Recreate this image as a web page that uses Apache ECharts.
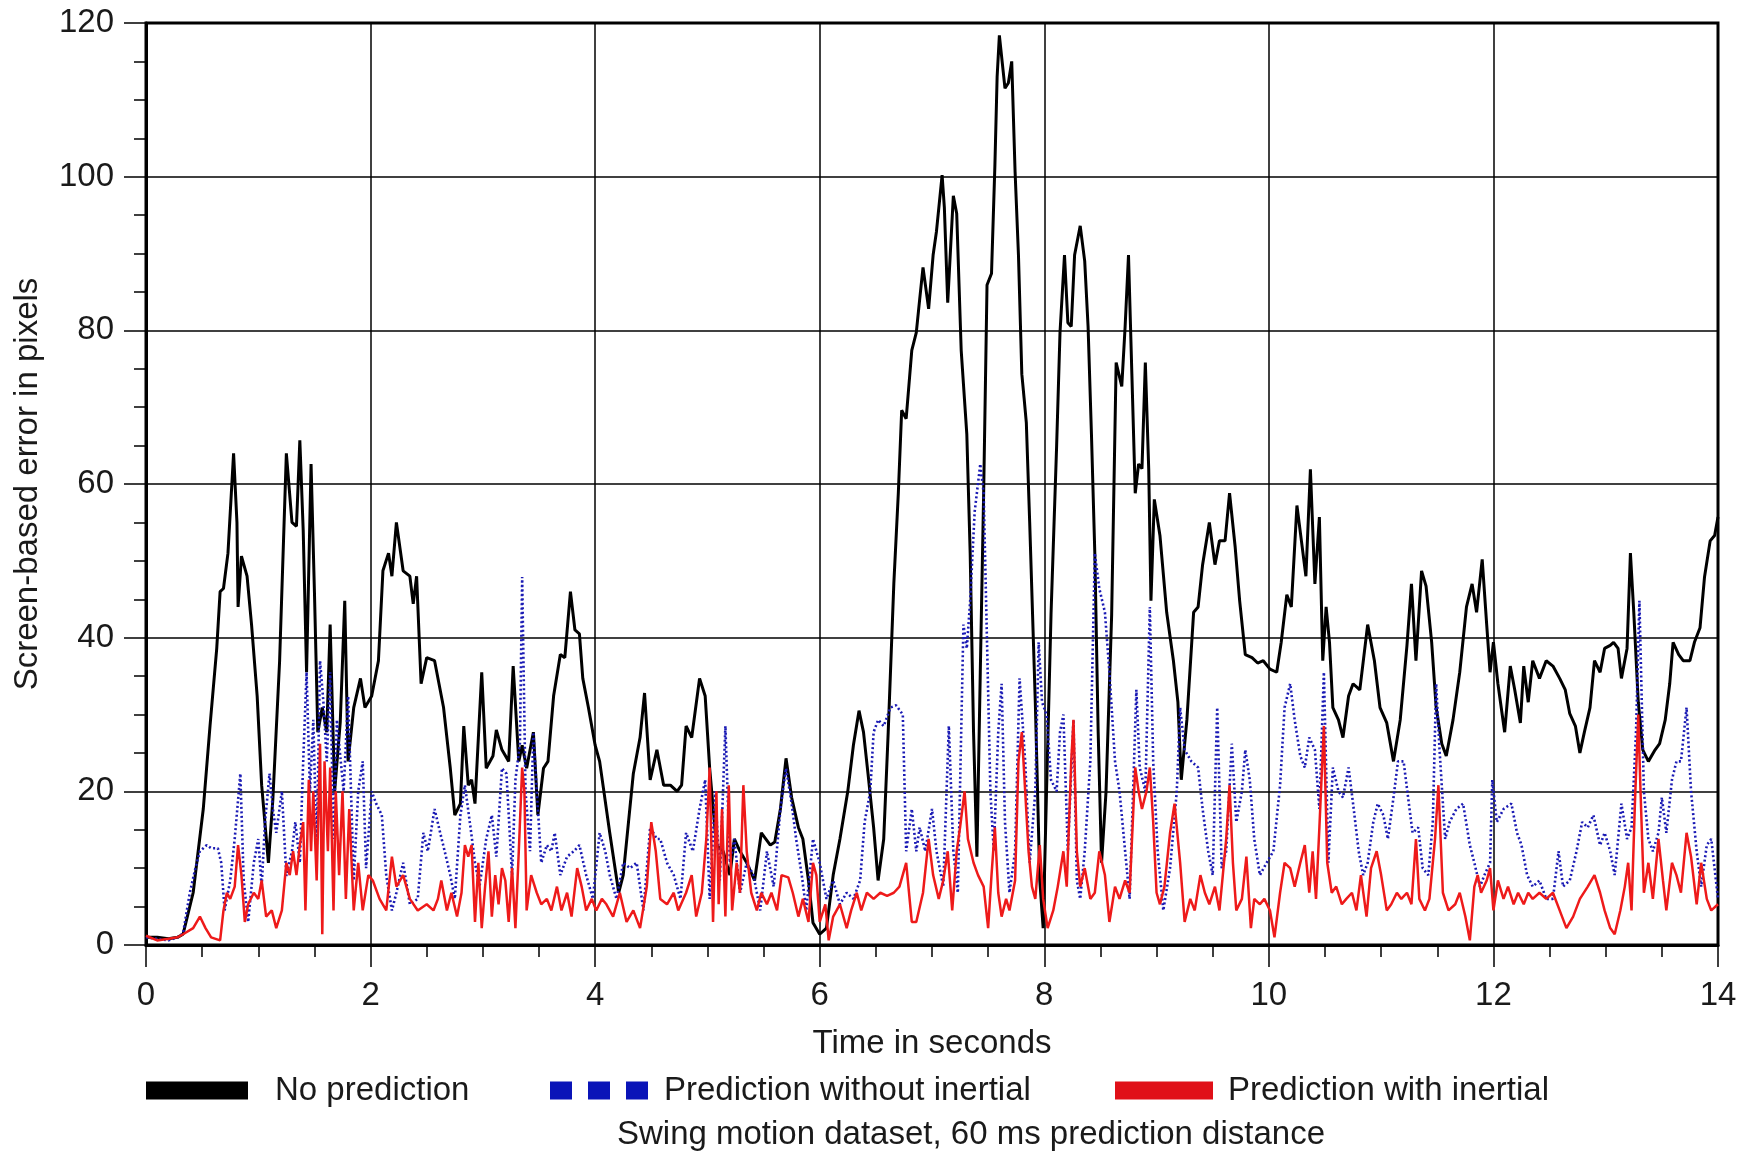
<!DOCTYPE html>
<html>
<head>
<meta charset="utf-8">
<title>Swing motion dataset</title>
<script src="https://cdn.jsdelivr.net/npm/echarts@6/dist/echarts.min.js"></script>
<style>
    html, body { margin: 0; padding: 0; background: #fff; }
    #main { width: 1746px; height: 1152px; }
</style>
</head>
<body>
<div id="main"></div>
<script>
// time ticks and error ticks
var timeTicks = [0, 2, 4, 6, 8, 10, 12, 14];
var errorTicks = [0, 20, 40, 60, 80, 100, 120];

// No prediction (black)
var noPredTime = [0, 0.1, 0.2, 0.28, 0.33, 0.42, 0.51, 0.57, 0.63, 0.66, 0.69, 0.73, 0.78, 0.81, 0.82, 0.85, 0.9, 0.94, 0.99, 1.03, 1.09, 1.13, 1.19, 1.25, 1.3, 1.34, 1.37, 1.4, 1.43, 1.47, 1.5, 1.53, 1.57, 1.61, 1.64, 1.68, 1.73, 1.77, 1.8, 1.85, 1.91, 1.95, 2.01, 2.07, 2.11, 2.16, 2.19, 2.23, 2.29, 2.35, 2.38, 2.41, 2.45, 2.5, 2.57, 2.65, 2.71, 2.75, 2.8, 2.83, 2.87, 2.9, 2.93, 2.99, 3.03, 3.09, 3.12, 3.17, 3.23, 3.27, 3.32, 3.35, 3.39, 3.45, 3.49, 3.54, 3.58, 3.63, 3.69, 3.73, 3.78, 3.82, 3.86, 3.89, 3.94, 4.0, 4.04, 4.13, 4.21, 4.25, 4.34, 4.4, 4.44, 4.49, 4.55, 4.61, 4.67, 4.73, 4.77, 4.81, 4.86, 4.93, 4.98, 5.02, 5.08, 5.14, 5.2, 5.24, 5.29, 5.35, 5.42, 5.48, 5.56, 5.6, 5.65, 5.7, 5.75, 5.81, 5.85, 5.9, 5.94, 6.0, 6.06, 6.12, 6.18, 6.25, 6.3, 6.35, 6.39, 6.43, 6.48, 6.52, 6.57, 6.61, 6.66, 6.7, 6.73, 6.77, 6.82, 6.86, 6.89, 6.92, 6.97, 7.01, 7.04, 7.09, 7.11, 7.14, 7.19, 7.22, 7.26, 7.31, 7.34, 7.37, 7.4, 7.43, 7.46, 7.49, 7.53, 7.56, 7.58, 7.6, 7.65, 7.68, 7.71, 7.74, 7.77, 7.8, 7.82, 7.84, 7.87, 7.92, 7.96, 7.99, 8.02, 8.06, 8.11, 8.14, 8.18, 8.21, 8.24, 8.27, 8.32, 8.36, 8.39, 8.42, 8.45, 8.48, 8.51, 8.55, 8.6, 8.64, 8.69, 8.72, 8.75, 8.78, 8.81, 8.84, 8.87, 8.9, 8.93, 8.95, 8.98, 9.03, 9.09, 9.15, 9.19, 9.22, 9.27, 9.33, 9.37, 9.41, 9.47, 9.52, 9.56, 9.61, 9.65, 9.7, 9.74, 9.79, 9.85, 9.9, 9.95, 10.01, 10.07, 10.11, 10.16, 10.2, 10.25, 10.29, 10.33, 10.37, 10.41, 10.45, 10.48, 10.51, 10.54, 10.57, 10.62, 10.66, 10.71, 10.75, 10.81, 10.88, 10.94, 10.99, 11.05, 11.11, 11.17, 11.23, 11.27, 11.31, 11.36, 11.4, 11.45, 11.49, 11.54, 11.58, 11.64, 11.7, 11.76, 11.81, 11.85, 11.9, 11.94, 11.97, 12.0, 12.04, 12.1, 12.15, 12.19, 12.24, 12.27, 12.31, 12.35, 12.41, 12.47, 12.53, 12.59, 12.64, 12.68, 12.73, 12.77, 12.81, 12.86, 12.9, 12.95, 12.99, 13.04, 13.07, 13.11, 13.14, 13.19, 13.22, 13.25, 13.29, 13.33, 13.38, 13.44, 13.48, 13.53, 13.57, 13.6, 13.65, 13.69, 13.75, 13.79, 13.84, 13.88, 13.93, 13.97, 14.0];
var noPredError = [1.0, 1.0, 0.8, 1.0, 1.4, 6.8, 17.7, 28.5, 38.6, 46, 46.4, 51, 64, 55, 44, 50.6, 48, 41.7, 32.4, 20.8, 10.7, 19, 37, 64, 55, 54.5, 65.7, 54, 35.5, 62.6, 46, 27.7, 30.9, 27.7, 41.7, 20, 29, 44.8, 23.9, 30.9, 34.7, 30.9, 32.4, 37, 48.7, 51, 48, 55, 48.7, 48, 44.4, 48, 34, 37.4, 37, 30.9, 23, 16.9, 18.4, 28.5, 20.8, 21.5, 18.4, 35.5, 23, 24.6, 28, 25.4, 23.9, 36.3, 23.9, 26, 23, 27.7, 16.9, 23, 23.9, 32.4, 37.8, 37.4, 46, 41, 40.5, 34.7, 30.9, 26, 23.9, 14.6, 6.8, 9.1, 22.3, 27, 32.8, 21.5, 25.4, 20.8, 20.8, 20, 20.8, 28.5, 27, 34.7, 32.4, 23, 13, 12.2, 9.1, 13.8, 12.2, 10.7, 8.4, 14.6, 13, 13.4, 17.7, 24.3, 19.2, 15.3, 13.8, 8.4, 2.9, 1.4, 2.2, 9.1, 13.8, 20, 26, 30.5, 27.7, 22.3, 15.3, 8.4, 13.8, 27.7, 47, 58.8, 69.6, 68.5, 77.4, 79.7, 84, 88.2, 82.8, 89.8, 92.9, 100.2, 96, 83.6, 97.5, 95.2, 77.4, 66.5, 51, 27.7, 11.5, 35.5, 58.8, 85.9, 87.4, 101.4, 113, 118.4, 111.5, 112.2, 115, 100.6, 89.8, 74.3, 71.2, 68, 55, 31.6, 8.4, 2.2, 20, 43, 65, 79.7, 89.8, 81, 80.5, 89.8, 93.6, 89, 80.5, 66.5, 51, 27.7, 10.7, 20, 43, 75.8, 72.7, 80.5, 89.8, 74.3, 58.8, 62.6, 62, 75.8, 62, 44.8, 58, 53.3, 43.3, 37, 31.6, 21.5, 29.3, 43.3, 44, 49.5, 55, 49.5, 52.6, 52.6, 58.8, 51.8, 44.8, 37.8, 37.4, 36.7, 37, 35.9, 35.5, 39.4, 45.6, 44, 57.2, 52.6, 48, 61.9, 47, 55.7, 37, 44, 39.4, 30.9, 29.3, 27, 32.4, 34, 33.2, 41.7, 37, 30.9, 28.9, 23.9, 29.3, 39, 47, 37, 48.7, 46.7, 39.4, 30.9, 26.2, 24.6, 29.3, 35.5, 44, 47, 43.3, 50.2, 41.7, 35.5, 39.4, 34, 27.7, 36.3, 33.2, 28.9, 36.3, 31.6, 37, 34.7, 37, 36.3, 34.7, 33.2, 30.1, 28.5, 25, 27.7, 30.9, 37, 35.5, 38.6, 39, 39.4, 38.6, 34.7, 38.6, 51, 43.3, 31.6, 25.4, 23.9, 25.4, 26.2, 29.3, 34, 39.4, 37.8, 37, 37, 39.4, 41.3, 47.9, 52.6, 53.3, 55.7];

// Prediction without inertial (blue dotted)
var noInertialTime = [0, 0.1, 0.2, 0.28, 0.33, 0.39, 0.44, 0.48, 0.54, 0.58, 0.64, 0.67, 0.7, 0.75, 0.79, 0.84, 0.87, 0.91, 0.96, 1.0, 1.03, 1.06, 1.1, 1.13, 1.16, 1.21, 1.25, 1.3, 1.33, 1.37, 1.4, 1.43, 1.46, 1.49, 1.52, 1.55, 1.58, 1.61, 1.64, 1.67, 1.7, 1.73, 1.76, 1.8, 1.85, 1.89, 1.93, 1.96, 2.01, 2.05, 2.1, 2.14, 2.19, 2.23, 2.29, 2.35, 2.42, 2.47, 2.51, 2.57, 2.62, 2.66, 2.71, 2.75, 2.8, 2.84, 2.89, 2.93, 2.97, 3.03, 3.08, 3.12, 3.17, 3.21, 3.26, 3.29, 3.33, 3.35, 3.38, 3.42, 3.45, 3.48, 3.52, 3.57, 3.61, 3.64, 3.69, 3.75, 3.81, 3.86, 3.92, 3.98, 4.04, 4.09, 4.13, 4.19, 4.25, 4.31, 4.37, 4.43, 4.49, 4.55, 4.58, 4.64, 4.7, 4.76, 4.81, 4.87, 4.93, 4.98, 5.02, 5.07, 5.11, 5.16, 5.2, 5.24, 5.29, 5.35, 5.41, 5.47, 5.53, 5.59, 5.65, 5.7, 5.75, 5.79, 5.84, 5.88, 5.94, 6.0, 6.06, 6.12, 6.18, 6.24, 6.3, 6.36, 6.4, 6.45, 6.48, 6.52, 6.57, 6.63, 6.68, 6.74, 6.77, 6.82, 6.86, 6.89, 6.94, 7.0, 7.04, 7.1, 7.15, 7.19, 7.23, 7.28, 7.31, 7.34, 7.38, 7.43, 7.46, 7.49, 7.52, 7.55, 7.59, 7.62, 7.65, 7.69, 7.74, 7.78, 7.83, 7.87, 7.92, 7.95, 7.98, 8.02, 8.06, 8.11, 8.14, 8.17, 8.21, 8.26, 8.29, 8.32, 8.36, 8.41, 8.45, 8.49, 8.54, 8.58, 8.63, 8.67, 8.72, 8.76, 8.82, 8.85, 8.9, 8.94, 8.97, 9.01, 9.06, 9.12, 9.18, 9.21, 9.25, 9.31, 9.37, 9.41, 9.46, 9.5, 9.54, 9.58, 9.62, 9.67, 9.71, 9.76, 9.79, 9.83, 9.87, 9.92, 9.98, 10.04, 10.1, 10.14, 10.19, 10.23, 10.28, 10.32, 10.36, 10.41, 10.45, 10.49, 10.53, 10.57, 10.62, 10.66, 10.71, 10.75, 10.8, 10.84, 10.88, 10.93, 10.97, 11.02, 11.06, 11.11, 11.15, 11.2, 11.24, 11.28, 11.33, 11.37, 11.42, 11.46, 11.49, 11.52, 11.57, 11.61, 11.67, 11.73, 11.79, 11.83, 11.88, 11.92, 11.97, 11.99, 12.03, 12.09, 12.16, 12.21, 12.25, 12.3, 12.35, 12.41, 12.47, 12.53, 12.58, 12.62, 12.68, 12.74, 12.79, 12.84, 12.89, 12.95, 12.99, 13.04, 13.08, 13.14, 13.19, 13.23, 13.27, 13.3, 13.34, 13.38, 13.42, 13.47, 13.5, 13.54, 13.59, 13.63, 13.67, 13.72, 13.76, 13.81, 13.85, 13.9, 13.94, 14.0];
var noInertialError = [1.0, 0.8, 0.6, 1.0, 1.5, 6.8, 10, 12.2, 13, 12.6, 12.6, 10.7, 4.5, 8.4, 13.8, 22.3, 8.4, 3, 10.7, 13.8, 7.6, 16, 22.3, 17.7, 14.6, 20, 9, 12.2, 16, 10.7, 23.9, 35.5, 20, 29.3, 12.2, 37, 31.6, 23.9, 35.5, 13.8, 29.3, 24.6, 20, 32.4, 8.4, 20, 23.9, 10, 20, 18.4, 16.9, 9, 4.5, 6.8, 10.7, 5.3, 6, 14.6, 12.2, 17.7, 14.6, 12.2, 9.1, 6, 16.9, 20.8, 15.3, 10.7, 7.6, 13.8, 16.9, 11.5, 23, 22.3, 9.1, 21.5, 26.2, 47.9, 20, 12.2, 27.7, 20, 10.7, 13, 12.2, 14.6, 9.1, 11.5, 12.2, 13, 9.1, 6, 14.6, 12.2, 9.1, 6, 10.7, 10, 10.7, 4.5, 15.3, 13.8, 13.8, 10.7, 9.1, 6, 14.6, 12.2, 17.7, 21.5, 6, 20, 8.4, 28.5, 10.7, 13.8, 6.8, 10.7, 9.1, 4.5, 12.2, 7.6, 17.7, 23, 18.4, 13.8, 9.1, 4.5, 13.8, 10.7, 6, 8.4, 5.3, 6.8, 6, 8.4, 16, 20, 27.7, 29.3, 28.5, 30.9, 31.2, 30, 12.2, 17.7, 12.2, 15.3, 12.2, 17.7, 12.2, 7.6, 28.5, 12.2, 6.8, 41.7, 38.6, 44.8, 56.4, 62.6, 58.8, 39.4, 20, 12.2, 27.7, 34, 16, 6.8, 12.2, 34.7, 23.9, 10.7, 20, 39.4, 31.6, 30, 21.5, 20, 27.7, 30, 12.2, 29.3, 8.4, 6, 12.2, 23.9, 51, 46.4, 43.3, 35.5, 23.9, 20, 12.2, 6, 33.2, 23.1, 20, 44, 23.9, 12.2, 4.5, 10, 20, 30.9, 25.4, 23.9, 23.1, 17.7, 12.2, 9.1, 30.9, 10, 12.2, 26.2, 16, 20, 25.4, 21.5, 13.8, 9.1, 10.7, 12.2, 20.8, 30.9, 34, 29.3, 24.6, 23.1, 27, 25.4, 17.7, 35.5, 10.7, 23.1, 20, 19.2, 23.1, 18.4, 12.2, 9.1, 10.7, 16, 18.4, 16.9, 13.8, 19.2, 23.9, 23.9, 19.2, 14.6, 15.3, 10, 9.1, 16, 34, 25.4, 13.8, 16, 17.7, 18.4, 13, 10.7, 7.6, 9.1, 10.7, 21.5, 16, 17.7, 18.4, 14.6, 13, 9.1, 7.6, 8.4, 6, 6, 12.2, 7.6, 8.4, 12.2, 16, 15.3, 16.9, 13, 14.6, 12.2, 9.1, 18.4, 13.8, 15.3, 27.7, 44.8, 20, 13.8, 12.2, 14.6, 19.2, 14.6, 21.5, 23.9, 23.9, 30.9, 20, 12.2, 7.6, 13, 13.8, 6];

// Prediction with inertial (red)
var inertialTime = [0, 0.1, 0.2, 0.28, 0.33, 0.42, 0.48, 0.53, 0.58, 0.66, 0.69, 0.72, 0.75, 0.79, 0.82, 0.85, 0.88, 0.91, 0.96, 1.0, 1.03, 1.07, 1.12, 1.16, 1.21, 1.25, 1.28, 1.31, 1.34, 1.37, 1.4, 1.42, 1.45, 1.47, 1.49, 1.52, 1.55, 1.57, 1.59, 1.62, 1.64, 1.67, 1.69, 1.72, 1.75, 1.78, 1.81, 1.85, 1.89, 1.93, 1.98, 2.02, 2.08, 2.14, 2.19, 2.23, 2.29, 2.35, 2.42, 2.5, 2.56, 2.6, 2.63, 2.68, 2.72, 2.77, 2.81, 2.84, 2.87, 2.9, 2.93, 2.96, 2.99, 3.02, 3.05, 3.08, 3.11, 3.14, 3.17, 3.2, 3.23, 3.26, 3.29, 3.32, 3.35, 3.37, 3.39, 3.43, 3.48, 3.52, 3.57, 3.61, 3.66, 3.7, 3.75, 3.79, 3.84, 3.88, 3.92, 3.97, 4.01, 4.06, 4.1, 4.16, 4.22, 4.28, 4.34, 4.4, 4.46, 4.5, 4.54, 4.58, 4.64, 4.7, 4.74, 4.81, 4.86, 4.9, 4.95, 4.99, 5.02, 5.05, 5.08, 5.1, 5.13, 5.16, 5.19, 5.22, 5.26, 5.29, 5.32, 5.35, 5.39, 5.44, 5.48, 5.53, 5.57, 5.62, 5.66, 5.72, 5.76, 5.81, 5.85, 5.9, 5.94, 5.97, 6.0, 6.05, 6.08, 6.12, 6.18, 6.24, 6.28, 6.33, 6.37, 6.42, 6.48, 6.54, 6.6, 6.66, 6.71, 6.77, 6.82, 6.86, 6.92, 6.97, 7.01, 7.06, 7.1, 7.14, 7.18, 7.22, 7.25, 7.29, 7.32, 7.37, 7.41, 7.46, 7.5, 7.53, 7.56, 7.59, 7.62, 7.66, 7.69, 7.74, 7.77, 7.8, 7.83, 7.86, 7.89, 7.92, 7.96, 7.99, 8.03, 8.08, 8.12, 8.17, 8.2, 8.24, 8.26, 8.29, 8.32, 8.36, 8.41, 8.45, 8.49, 8.54, 8.58, 8.63, 8.67, 8.72, 8.76, 8.81, 8.84, 8.87, 8.91, 8.94, 8.97, 9.0, 9.03, 9.07, 9.12, 9.16, 9.21, 9.25, 9.3, 9.34, 9.39, 9.43, 9.47, 9.52, 9.56, 9.59, 9.62, 9.65, 9.68, 9.71, 9.76, 9.8, 9.84, 9.87, 9.92, 9.96, 10.01, 10.05, 10.1, 10.14, 10.19, 10.23, 10.28, 10.32, 10.36, 10.39, 10.42, 10.45, 10.49, 10.52, 10.56, 10.6, 10.65, 10.69, 10.74, 10.78, 10.82, 10.87, 10.91, 10.96, 11.0, 11.05, 11.09, 11.14, 11.18, 11.23, 11.27, 11.31, 11.34, 11.39, 11.43, 11.48, 11.51, 11.55, 11.6, 11.66, 11.7, 11.75, 11.79, 11.83, 11.86, 11.89, 11.94, 11.97, 12.0, 12.04, 12.09, 12.13, 12.18, 12.22, 12.27, 12.31, 12.35, 12.41, 12.47, 12.53, 12.59, 12.65, 12.71, 12.77, 12.84, 12.9, 12.95, 12.99, 13.04, 13.08, 13.13, 13.17, 13.2, 13.23, 13.26, 13.29, 13.31, 13.34, 13.38, 13.42, 13.47, 13.51, 13.54, 13.59, 13.63, 13.67, 13.72, 13.76, 13.81, 13.85, 13.9, 13.94, 14.0];
var inertialError = [1.2, 0.6, 0.8, 1.0, 1.4, 2.2, 3.7, 2.2, 1, 0.6, 4.5, 6.8, 6, 7.6, 13, 9.1, 3, 5.3, 6.8, 6, 8.4, 3.7, 4.5, 2.2, 4.5, 10.7, 9.1, 12.2, 9.1, 13, 16, 4.5, 21.5, 12.2, 20, 8.4, 26.2, 1.4, 23.9, 12.2, 23.1, 4.5, 20, 9.1, 20, 6, 17.7, 4.5, 10.7, 4.5, 9.1, 8.4, 6, 4.5, 11.5, 7.6, 9.1, 6, 4.5, 5.3, 4.5, 6, 8.4, 4.5, 6.8, 3.7, 6.8, 13, 11.5, 13, 3, 10.7, 2.2, 7.6, 12.2, 3.7, 9.1, 5.3, 10, 8.4, 3, 10, 2.2, 12.2, 23.1, 20, 4.5, 9.1, 6.8, 5.3, 6, 4.5, 7.6, 4.5, 6.8, 3.7, 10, 7.6, 4.5, 6, 4.5, 6, 5.3, 3.7, 6.8, 3, 4.5, 2.2, 7.6, 16, 12.2, 6, 5.3, 6.8, 4.5, 6.8, 9.1, 3.7, 6.8, 13.8, 23.1, 3, 20, 5.3, 17.7, 3.7, 20.8, 4.5, 10.7, 6.8, 20.8, 12.2, 6.8, 4.5, 6.8, 5.3, 6.8, 4.5, 9.1, 8.8, 6.8, 3.7, 6, 3, 10.7, 9.1, 3, 5.3, 0.6, 3.7, 5.3, 2.2, 4.5, 6.8, 4.5, 6.8, 6, 6.8, 6.4, 6.8, 7.6, 10.7, 3, 3, 6.8, 13.8, 9.1, 6, 8.4, 12.2, 4.5, 12.2, 15.3, 20, 13.8, 10.7, 9.1, 7.6, 2.2, 9.1, 15.3, 6.8, 3.7, 6, 4.5, 8.4, 23.9, 27.7, 20, 12.2, 7.6, 6, 13, 6, 2.2, 4.5, 7.6, 12.2, 7.6, 23.9, 29.3, 12.2, 7.6, 10, 6, 6.8, 12.2, 9.1, 3, 7.6, 6, 8.4, 6.8, 23.1, 20, 17.7, 20, 23.1, 16, 6.8, 5.3, 7.6, 14.6, 18.4, 10.7, 3, 6, 4.5, 9.1, 6.8, 5.3, 7.6, 4.5, 9.1, 13.8, 20.8, 10.7, 4.5, 6, 11.5, 2.2, 6, 5.3, 6, 4.5, 1, 6.8, 10.7, 10, 7.6, 10.7, 13, 6.8, 12.2, 6, 15.3, 28.5, 10.7, 6.8, 7.6, 5.3, 6, 6.8, 4.5, 9.1, 3.7, 10, 12.2, 9.1, 4.5, 5.3, 6.8, 6, 6.8, 5.3, 13.8, 6, 4.5, 6, 13.8, 20.8, 6.8, 4.5, 5.3, 6.8, 3.7, 0.6, 7.6, 9.1, 6.8, 8.4, 10, 4.5, 8.4, 6, 7.6, 5.3, 6.8, 5.3, 6.8, 6, 6.8, 6, 6.8, 4.5, 2.2, 3.7, 6, 7.6, 9.1, 6.8, 4.5, 2.2, 1.4, 4.5, 7.6, 10.7, 4.5, 18.4, 30, 20, 6.8, 10.7, 6, 13.8, 8.4, 4.5, 10.7, 9.1, 6.8, 14.6, 11.5, 5.3, 10.7, 6, 4.5, 5.3];

var fontName = '"Liberation Sans", Arial, sans-serif';
var textColor = '#1a1a1a';

function pairs(times, values) {
    return times.map(function (t, i) { return [t, values[i]]; });
}

var chart = echarts.init(document.getElementById('main'));

var legendText = { fontSize: 33, fontFamily: fontName, color: textColor };

var option = {
    animation: false,
    backgroundColor: '#fff',
    grid: {
        left: 146, right: 28, top: 23, bottom: 207,
        show: true, borderColor: '#000', borderWidth: 3
    },
    legend: [
        {
            left: 141, top: 1069, itemWidth: 102, itemHeight: 18,
            textStyle: Object.assign({ padding: [0, 0, 0, 22] }, legendText),
            data: [{ name: 'No prediction', icon: 'rect', itemStyle: { color: '#000', borderWidth: 0 } }]
        },
        {
            left: 545, top: 1069, itemWidth: 98, itemHeight: 18,
            textStyle: Object.assign({ padding: [0, 0, 0, 11] }, legendText),
            data: [{ name: 'Prediction without inertial',
                     icon: 'path://M0,0h22v18h-22z M38,0h22v18h-22z M76,0h22v18h-22z',
                     itemStyle: { color: '#0a14b8', borderWidth: 0 } }]
        },
        {
            left: 1110, top: 1069, itemWidth: 98, itemHeight: 18,
            textStyle: Object.assign({ padding: [4, 0, 0, 10] }, legendText),
            data: [{ name: 'Prediction with inertial', icon: 'rect', itemStyle: { color: '#e01018', borderWidth: 0 } }]
        }
    ],
    graphic: [{
        type: 'text',
        x: 971, y: 1135,
        style: {
            text: 'Swing motion dataset, 60 ms prediction distance',
            fontSize: 33, fontFamily: fontName, fill: textColor,
            align: 'center', verticalAlign: 'middle'
        }
    }],
    xAxis: {
        type: 'value',
        min: timeTicks[0], max: timeTicks[timeTicks.length - 1], interval: 2,
        name: 'Time in seconds', nameLocation: 'middle', nameGap: 82,
        nameTextStyle: { fontSize: 33, fontFamily: fontName, color: textColor },
        axisLine: { lineStyle: { color: '#000', width: 3 } },
        axisTick: { length: 22, lineStyle: { color: '#000', width: 1.5 } },
        minorTick: { show: true, splitNumber: 4, length: 12, lineStyle: { color: '#000', width: 1.5 } },
        axisLabel: { margin: 34, fontSize: 33, fontFamily: fontName, color: textColor },
        splitLine: { show: true, lineStyle: { color: '#000', width: 1.5 } }
    },
    yAxis: {
        type: 'value',
        min: errorTicks[0], max: errorTicks[errorTicks.length - 1], interval: 20,
        name: 'Screen-based error in pixels', nameLocation: 'middle', nameGap: 102,
        nameTextStyle: { fontSize: 33, fontFamily: fontName, color: textColor },
        axisLine: { show: true, lineStyle: { color: '#000', width: 3 } },
        axisTick: { show: true, length: 22, lineStyle: { color: '#000', width: 1.5 } },
        minorTick: { show: true, splitNumber: 4, length: 12, lineStyle: { color: '#000', width: 1.5 } },
        axisLabel: { margin: 32, fontSize: 33, fontFamily: fontName, color: textColor },
        splitLine: { show: true, lineStyle: { color: '#000', width: 1.5 } }
    },
    series: [
        {
            name: 'No prediction',
            type: 'line',
            data: pairs(noPredTime, noPredError),
            showSymbol: false, symbol: 'none',
            lineStyle: { color: '#000', width: 3 },
            itemStyle: { color: '#000' }
        },
        {
            name: 'Prediction without inertial',
            type: 'line',
            data: pairs(noInertialTime, noInertialError),
            showSymbol: false, symbol: 'none',
            lineStyle: { color: '#1a1ab4', width: 2.6, type: [2, 2.5] },
            itemStyle: { color: '#1a1ab4' }
        },
        {
            name: 'Prediction with inertial',
            type: 'line',
            data: pairs(inertialTime, inertialError),
            showSymbol: false, symbol: 'none',
            lineStyle: { color: '#ee1a1a', width: 2.5 },
            itemStyle: { color: '#ee1a1a' }
        }
    ]
};

chart.setOption(option);
</script>
</body>
</html>
